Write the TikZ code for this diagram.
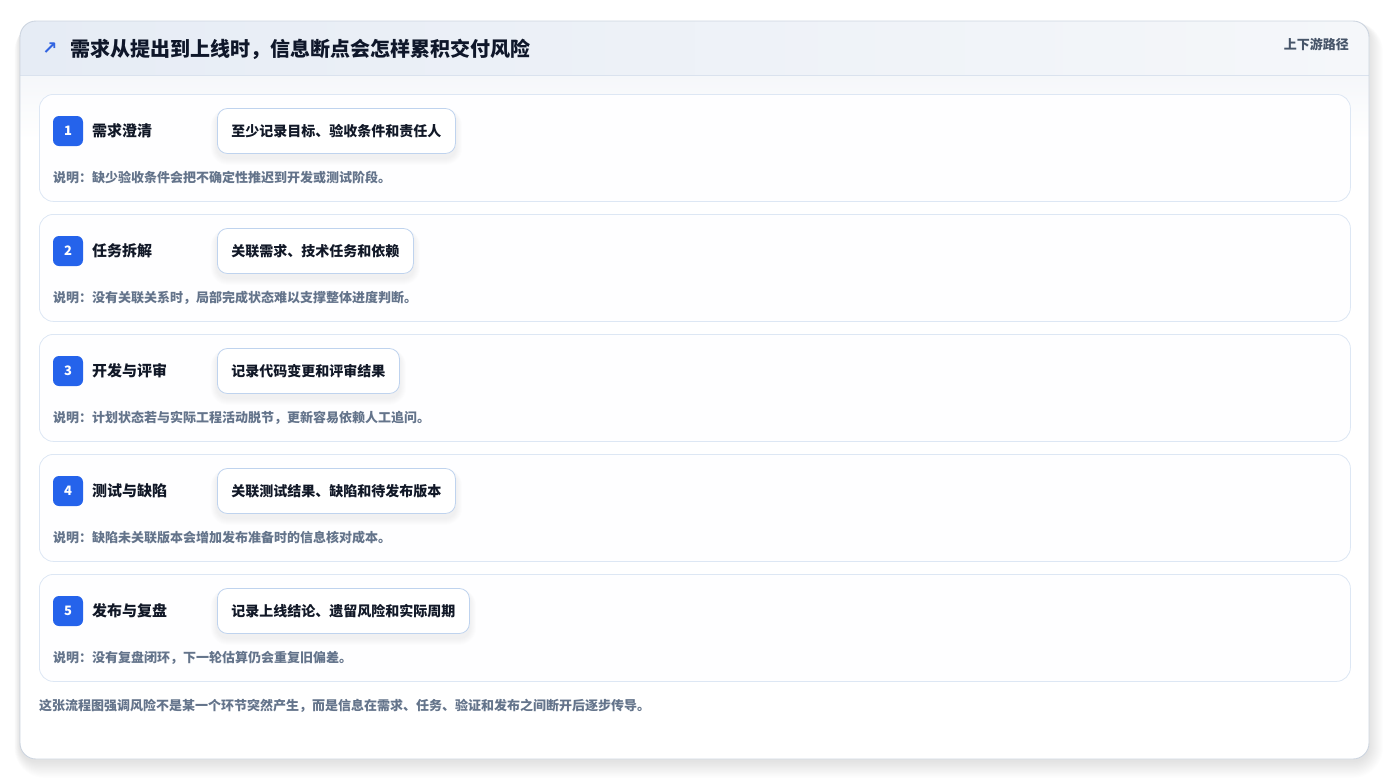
\documentclass[tikz,border=0pt]{standalone}
\usepackage{fontspec}
\setmainfont{Noto Sans CJK SC}
\newfontfamily\symfont{DejaVu Sans}
\definecolor{badgeblue}{RGB}{37,99,235}
\definecolor{iconblue}{RGB}{50,100,225}
\definecolor{titlec}{RGB}{15,23,42}
\definecolor{inkc}{RGB}{17,24,39}
\definecolor{descc}{RGB}{100,116,139}
\definecolor{tagc}{RGB}{71,85,105}
\definecolor{rowborder}{RGB}{221,231,244}
\definecolor{pillborder}{RGB}{191,211,238}
\definecolor{cardborder}{RGB}{205,213,224}
\definecolor{hdrL}{RGB}{230,236,245}
\definecolor{hdrR}{RGB}{245,247,250}
\definecolor{hdrline}{RGB}{218,226,238}
\definecolor{rowfill}{RGB}{254,254,255}
\pgfdeclarelayer{bg}
\pgfdeclarelayer{shad}
\pgfsetlayers{bg,shad,main}
\tikzset{
  rowbox/.style={draw=rowborder, fill=rowfill, rounded corners=14pt, line width=0.8pt, inner sep=0},
  badgebox/.style={fill=badgeblue, rounded corners=6pt, minimum width=30pt, minimum height=30pt, inner sep=0, text=white, font=\bfseries\fontsize{13}{13}\selectfont},
  steptitle/.style={anchor=west, inner sep=0, text=inkc, font=\bfseries\fontsize{15}{15}\selectfont},
  pillbox/.style={anchor=west, draw=pillborder, fill=white, rounded corners=10pt, line width=0.8pt, minimum height=45pt, inner xsep=14pt, inner ysep=0, text=inkc, font=\bfseries\fontsize{14}{14}\selectfont},
  desctext/.style={anchor=west, inner sep=0, text=descc, font=\bfseries\fontsize{13}{13}\selectfont},
  softshadow/.style={fill=black, opacity=0.008},
}
\begin{document}
\begin{tikzpicture}[x=1pt,y=-1pt]
\useasboundingbox (0,0) rectangle (1390,780);
\begin{pgfonlayer}{bg}
\fill[white] (0,0) rectangle (1390,780);
% card shadow
\foreach \i in {1,...,14} {
  \fill[black, opacity=0.006, rounded corners=16+\i] (20-\i*0.4,23-\i*0.1) rectangle (1369+\i*1.0,761+\i*1.2);
}
% card
\fill[white, rounded corners=16pt] (20,21) rectangle (1369,759);
\begin{scope}
  \clip[rounded corners=16pt] (20,21) rectangle (1369,759);
  \shade[left color=hdrL, right color=hdrR] (20,21) rectangle (1369,75);
  \shade[top color=hdrR, bottom color=white] (20,75) rectangle (1369,140);
\end{scope}
\draw[hdrline, line width=0.8pt] (20,75) -- (1369,75);
\draw[cardborder, line width=0.9pt, rounded corners=16pt] (20,21) rectangle (1369,759);
\end{pgfonlayer}
% header
\node[font=\symfont\bfseries\fontsize{18}{18}\selectfont, text=iconblue, inner sep=0] (icon) at (50,49) {↗};
\node[anchor=west, inner sep=0, text=titlec, font=\bfseries\fontsize{20}{20}\selectfont] (title) at (70,49) {需求从提出到上线时，信息断点会怎样累积交付风险};
\node[anchor=east, inner sep=0, text=tagc, font=\bfseries\fontsize{13}{13}\selectfont] (tag) at (1349,44) {上下游路径};
% rows
\foreach \n/\t/\p/\d [count=\i] in {
  1/需求澄清/至少记录目标、验收条件和责任人/说明：缺少验收条件会把不确定性推迟到开发或测试阶段。,
  2/任务拆解/关联需求、技术任务和依赖/说明：没有关联关系时，局部完成状态难以支撑整体进度判断。,
  3/开发与评审/记录代码变更和评审结果/说明：计划状态若与实际工程活动脱节，更新容易依赖人工追问。,
  4/测试与缺陷/关联测试结果、缺陷和待发布版本/说明：缺陷未关联版本会增加发布准备时的信息核对成本。,
  5/发布与复盘/记录上线结论、遗留风险和实际周期/说明：没有复盘闭环，下一轮估算仍会重复旧偏差。} {
  \pgfmathsetmacro\y{94+(\i-1)*120}
  \begin{pgfonlayer}{bg}
    \node[rowbox, minimum width=1311pt, minimum height=107pt, anchor=north west] (row\i) at (39,\y) {};
  \end{pgfonlayer}
  \node[badgebox] (badge\i) at (68,\y+37) {\n};
  \node[steptitle] (title\i) at (92,\y+37) {\t};
  \node[pillbox] (pill\i) at (217,\y+37) {\p};
  \node[desctext] (desc\i) at (53,\y+84) {\d};
  \begin{pgfonlayer}{shad}
    \foreach \k in {1,...,7} {
      \fill[softshadow, rounded corners=10+\k] ([shift={(-\k*0.9,-\k*0.5+4)}]pill\i.north west) rectangle ([shift={(\k*0.9,\k*1.0+4)}]pill\i.south east);
    }
  \end{pgfonlayer}
}
% footer
\node[desctext] (footer) at (39,706) {这张流程图强调风险不是某一个环节突然产生，而是信息在需求、任务、验证和发布之间断开后逐步传导。};
\end{tikzpicture}
\end{document}
